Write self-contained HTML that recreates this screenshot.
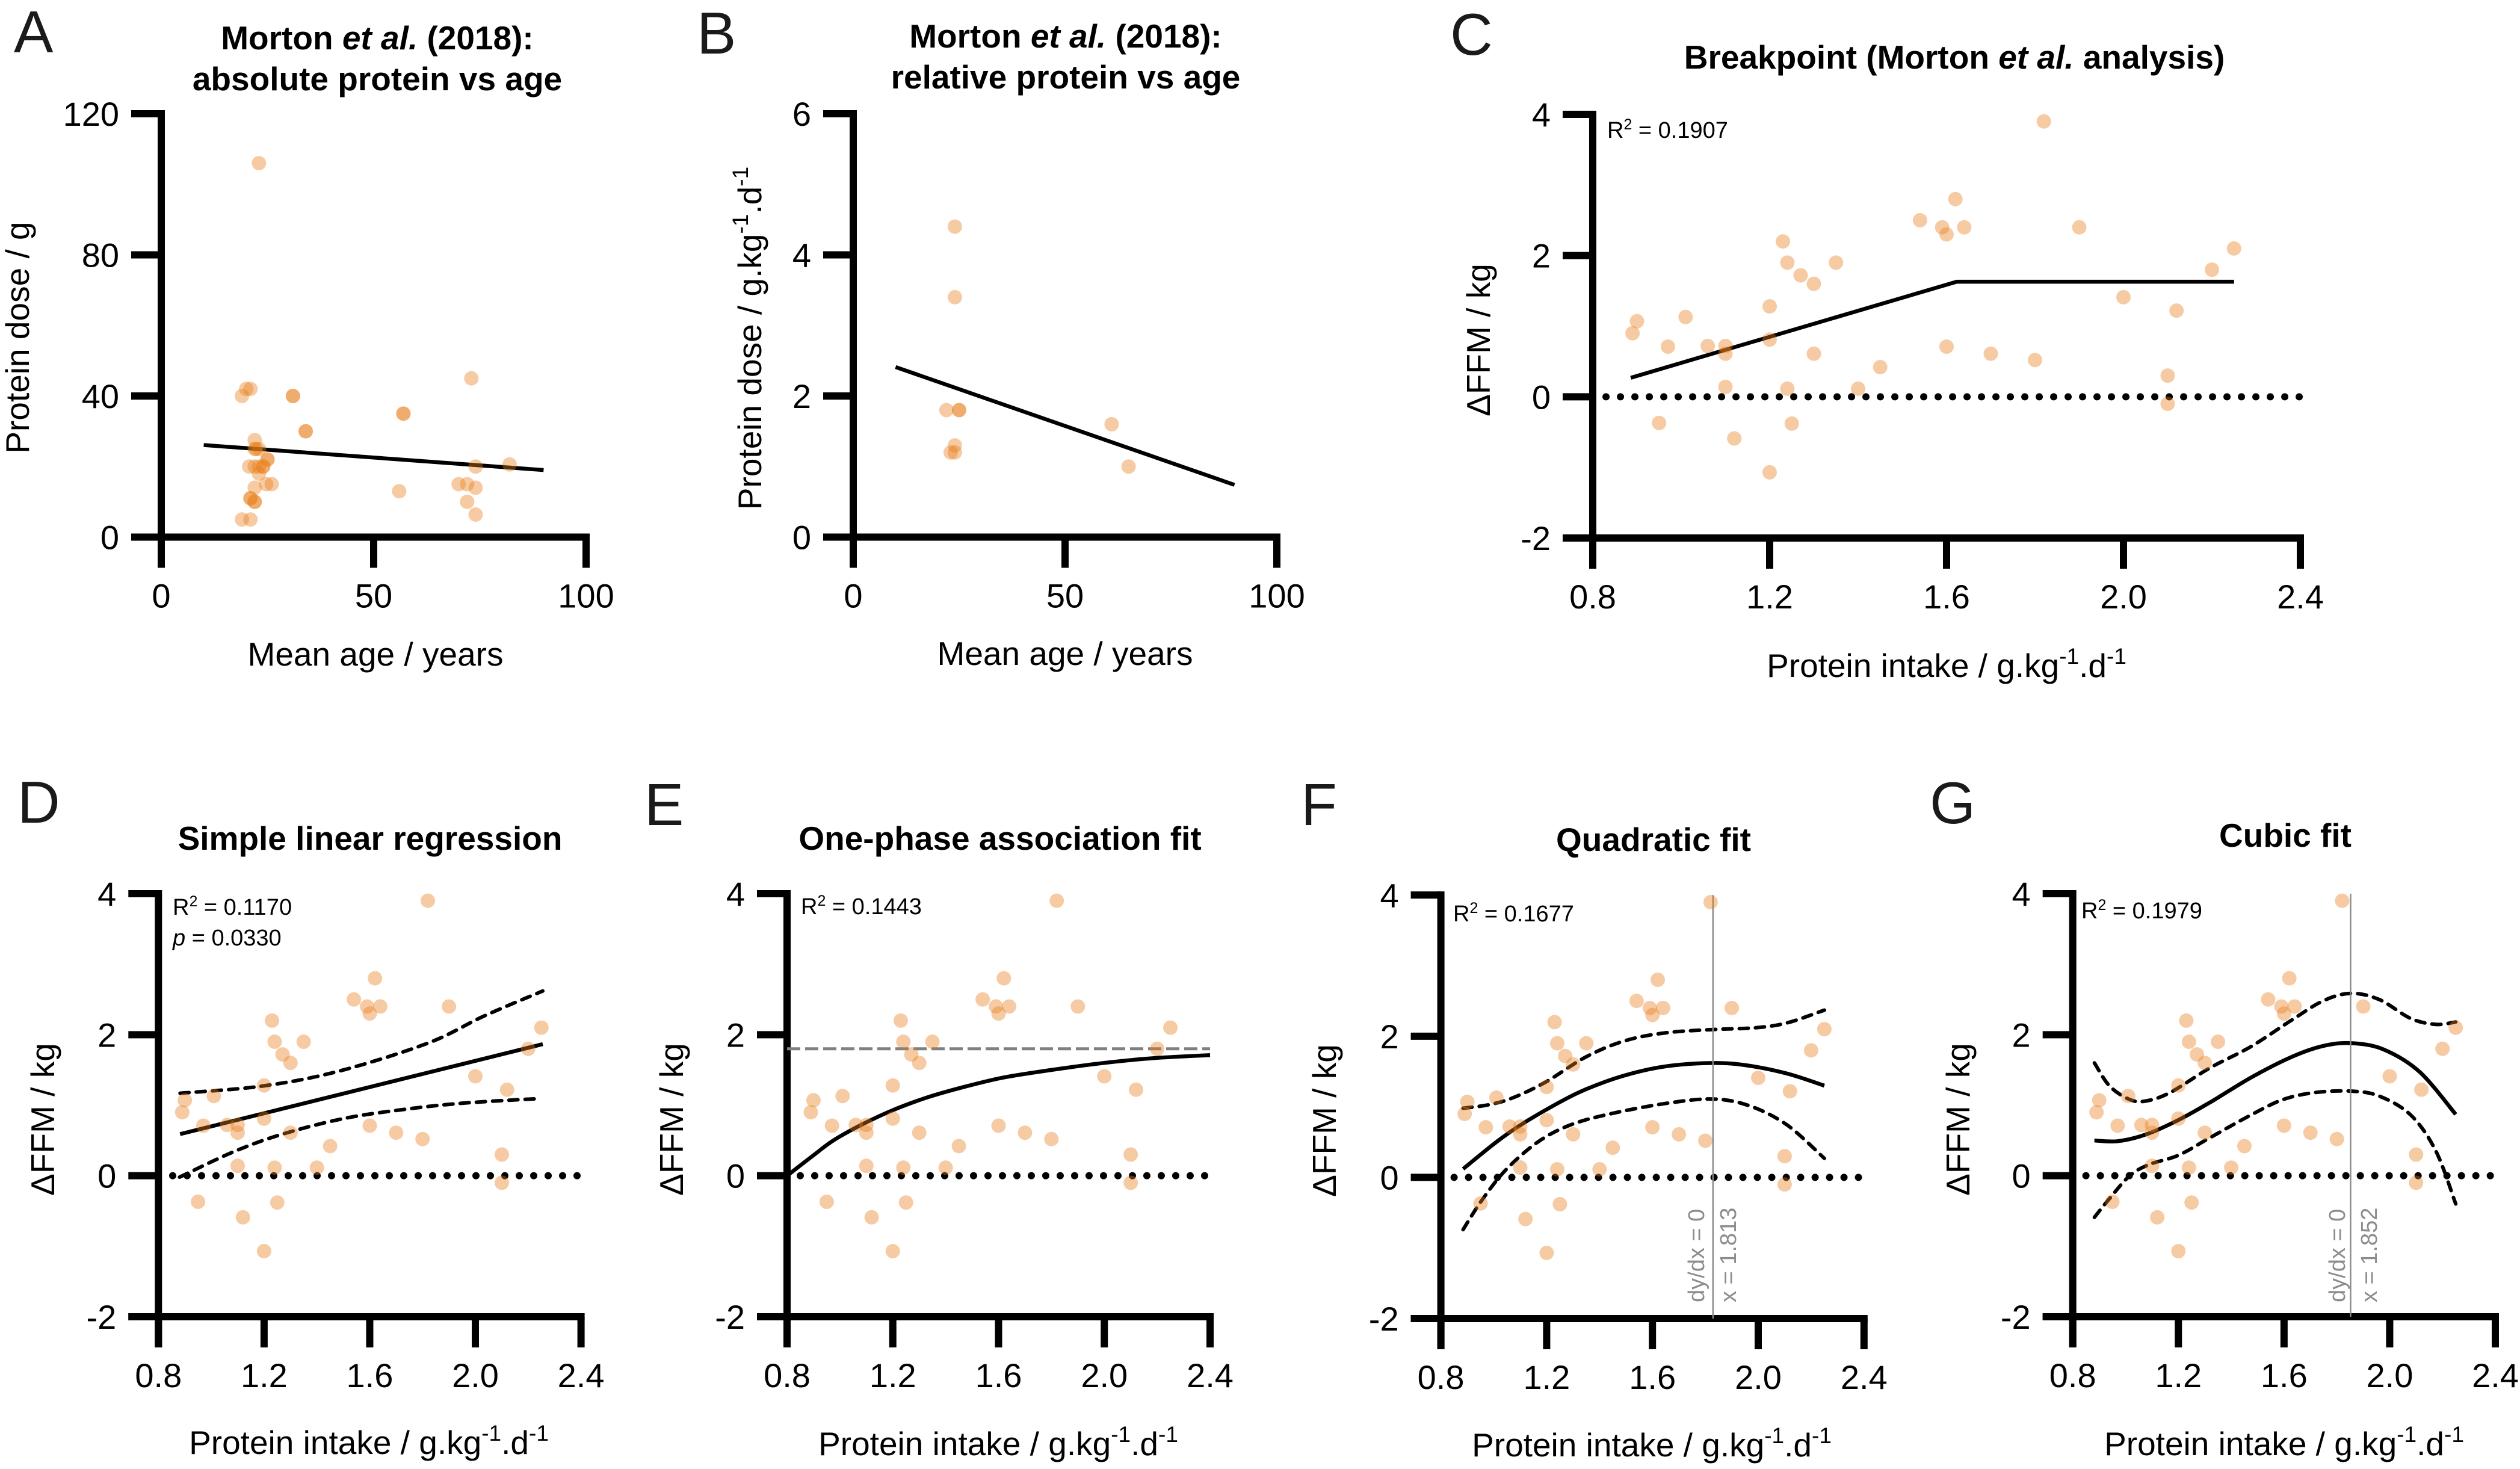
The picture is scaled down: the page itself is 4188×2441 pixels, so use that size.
<!DOCTYPE html>
<html lang="en">
<head>
<meta charset="utf-8">
<title>Protein intake and fat-free mass analyses</title>
<style>
  html, body { margin: 0; padding: 0; background: #fff; }
  svg { display: block; }
  text { font-family: "Liberation Sans", Arial, sans-serif; fill: #000; }
  .letter { font-size: 98px; fill: #1a1a1a; }
  .title { font-size: 55px; font-weight: bold; text-anchor: middle; }
  .title tspan.it { font-style: italic; }
  .xlab { font-size: 55px; text-anchor: middle; }
  .ylab { font-size: 55px; text-anchor: middle; }
  .stat { font-size: 38px; }
  .note { font-size: 38px; fill: #8c8c8c; }
  .tick { font-size: 56px; }
</style>
</head>
<body>
<svg id="figure" xmlns="http://www.w3.org/2000/svg" width="4188" height="2441" viewBox="0 0 4188 2441">
  <rect x="0" y="0" width="4188" height="2441" fill="#fff"/>

  <g>
    <g id="plot-a"></g>
    <text class="letter" x="23" y="87">A</text>
    <text class="title" x="627" y="82">Morton <tspan class="it">et al.</tspan> (2018):</text>
    <text class="title" x="627" y="150">absolute protein vs age</text>
    <text class="xlab" x="624" y="1106">Mean age / years</text>
    <text class="ylab" transform="translate(48 561) rotate(-90)">Protein dose / g</text>
  </g>

  <g>
    <g id="plot-b"></g>
    <text class="letter" x="1158" y="89">B</text>
    <text class="title" x="1771" y="79">Morton <tspan class="it">et al.</tspan> (2018):</text>
    <text class="title" x="1771" y="147">relative protein vs age</text>
    <text class="xlab" x="1770" y="1105">Mean age / years</text>
    <text class="ylab" transform="translate(1265 562) rotate(-90)">Protein dose / g.kg<tspan font-size="37" dy="-22">-1</tspan><tspan dy="22">.d</tspan><tspan font-size="37" dy="-22">-1</tspan></text>
  </g>

  <g>
    <g id="plot-c"></g>
    <text class="letter" x="2410" y="91">C</text>
    <text class="title" x="3248" y="114">Breakpoint (Morton <tspan class="it">et al.</tspan> analysis)</text>
    <text class="stat" x="2671" y="229">R<tspan font-size="25" dy="-14">2</tspan><tspan dy="14"> = 0.1907</tspan></text>
    <text class="xlab" x="3235" y="1125">Protein intake / g.kg<tspan font-size="37" dy="-22">-1</tspan><tspan dy="22">.d</tspan><tspan font-size="37" dy="-22">-1</tspan></text>
    <text class="ylab" transform="translate(2476 565) rotate(-90)">ΔFFM / kg</text>
  </g>

  <g>
    <g id="plot-d"></g>
    <text class="letter" x="29" y="1367">D</text>
    <text class="title" x="615" y="1412">Simple linear regression</text>
    <text class="stat" x="287" y="1520">R<tspan font-size="25" dy="-14">2</tspan><tspan dy="14"> = 0.1170</tspan></text>
    <text class="stat" x="287" y="1571"><tspan font-style="italic">p</tspan> = 0.0330</text>
    <text class="xlab" x="613" y="2416">Protein intake / g.kg<tspan font-size="37" dy="-22">-1</tspan><tspan dy="22">.d</tspan><tspan font-size="37" dy="-22">-1</tspan></text>
    <text class="ylab" transform="translate(90 1860) rotate(-90)">ΔFFM / kg</text>
  </g>

  <g>
    <g id="plot-e"></g>
    <text class="letter" x="1071" y="1371">E</text>
    <text class="title" x="1662" y="1412">One-phase association fit</text>
    <text class="stat" x="1331" y="1519">R<tspan font-size="25" dy="-14">2</tspan><tspan dy="14"> = 0.1443</tspan></text>
    <text class="xlab" x="1659" y="2418">Protein intake / g.kg<tspan font-size="37" dy="-22">-1</tspan><tspan dy="22">.d</tspan><tspan font-size="37" dy="-22">-1</tspan></text>
    <text class="ylab" transform="translate(1135 1860) rotate(-90)">ΔFFM / kg</text>
  </g>

  <g>
    <g id="plot-f"></g>
    <text class="letter" x="2162" y="1371">F</text>
    <text class="title" x="2748" y="1414">Quadratic fit</text>
    <text class="stat" x="2415" y="1531">R<tspan font-size="25" dy="-14">2</tspan><tspan dy="14"> = 0.1677</tspan></text>
    <text class="note" transform="translate(2832 2164) rotate(-90)">dy/dx = 0</text>
    <text class="note" transform="translate(2885 2164) rotate(-90)">x = 1.813</text>
    <text class="xlab" x="2745" y="2420">Protein intake / g.kg<tspan font-size="37" dy="-22">-1</tspan><tspan dy="22">.d</tspan><tspan font-size="37" dy="-22">-1</tspan></text>
    <text class="ylab" transform="translate(2220 1862) rotate(-90)">ΔFFM / kg</text>
  </g>

  <g>
    <g id="plot-g"></g>
    <text class="letter" x="3207" y="1368">G</text>
    <text class="title" x="3798" y="1407">Cubic fit</text>
    <text class="stat" x="3459" y="1526">R<tspan font-size="25" dy="-14">2</tspan><tspan dy="14"> = 0.1979</tspan></text>
    <text class="note" transform="translate(3897 2164) rotate(-90)">dy/dx = 0</text>
    <text class="note" transform="translate(3950 2164) rotate(-90)">x = 1.852</text>
    <text class="xlab" x="3796" y="2418">Protein intake / g.kg<tspan font-size="37" dy="-22">-1</tspan><tspan dy="22">.d</tspan><tspan font-size="37" dy="-22">-1</tspan></text>
    <text class="ylab" transform="translate(3273 1860) rotate(-90)">ΔFFM / kg</text>
  </g>
</svg>

<script>
// ---- Tick values and labels ----
const ageTicks = [0, 50, 100];
const ageTickLabels = ['0', '50', '100'];
const absDoseTicks = [0, 40, 80, 120];
const absDoseTickLabels = ['0', '40', '80', '120'];
const relDoseTicks = [0, 2, 4, 6];
const relDoseTickLabels = ['0', '2', '4', '6'];
const intakeTicks = [0.8, 1.2, 1.6, 2.0, 2.4];
const intakeTickLabels = ['0.8', '1.2', '1.6', '2.0', '2.4'];
const ffmTicks = [-2, 0, 2, 4];
const ffmTickLabels = ['-2', '0', '2', '4'];

// ---- Panel A: absolute protein dose vs age ----
const absAge = [23, 19, 20, 21, 31, 31, 34, 34, 57, 57, 73, 22, 22, 22.3, 23, 25, 25, 20.7, 22, 23, 24, 24, 23, 24.7, 26, 22, 21, 21, 22, 22, 19, 21, 56, 70, 72, 74, 72, 74, 74, 82];
const absDose = [106, 40, 42, 42, 40, 40, 30, 30, 35, 35, 45, 27.5, 25, 25, 25, 22, 22, 20, 20, 20, 20, 20, 18, 15, 15, 14, 11, 11, 10, 10, 5, 5, 13, 15, 15, 14, 10, 6.4, 20, 20.6];
const absFitAge = [10, 90];
const absFitDose = [26.1, 19];

// ---- Panel B: relative protein dose vs age ----
const relAge = [24, 24, 22, 25, 25, 61, 24, 23, 24, 65];
const relDose = [4.4, 3.4, 1.8, 1.8, 1.8, 1.6, 1.3, 1.2, 1.2, 1.0];
const relFitAge = [10, 90];
const relFitDose = [2.41, 0.74];

// ---- Panels C-G: change in fat-free mass vs protein intake ----
const intake = [1.82, 1.62, 1.54, 1.59, 1.64, 1.6, 1.9, 1.23, 2.25, 1.24, 1.35, 1.27, 1.3, 2.2, 2.0, 2.12, 1.2, 0.9, 1.01, 0.89, 0.97, 1.06, 1.1, 1.1, 1.2, 1.3, 1.6, 1.7, 1.8, 1.45, 2.1, 1.1, 1.24, 1.4, 2.1, 0.95, 1.25, 1.12, 1.2];
const deltaFfm = [3.9, 2.8, 2.5, 2.4, 2.4, 2.3, 2.4, 2.2, 2.1, 1.9, 1.9, 1.72, 1.6, 1.8, 1.41, 1.22, 1.28, 1.07, 1.13, 0.9, 0.71, 0.72, 0.72, 0.61, 0.81, 0.61, 0.71, 0.61, 0.52, 0.42, 0.3, 0.14, 0.115, 0.115, -0.1, -0.37, -0.38, -0.59, -1.07];

// Panel C: breakpoint
const breakX = [0.886, 1.623, 2.25];
const breakY = [0.27, 1.63, 1.63];

// Panel D: simple linear regression
const linearX = [0.882, 2.255];
const linearY = [0.59, 1.866];
const linearUpperX = [0.882, 1.19, 1.48, 1.82, 2.03, 2.255];
const linearUpperY = [1.17, 1.27, 1.48, 1.88, 2.26, 2.62];
const linearLowerX = [0.88, 1.085, 1.27, 1.5, 1.73, 1.955, 2.245];
const linearLowerY = [-0.02, 0.34, 0.59, 0.81, 0.94, 1.03, 1.095];

// Panel E: one-phase association
const assocX = [0.8, 0.9, 0.975, 1.08, 1.2, 1.33, 1.46, 1.615, 1.8, 2.0, 2.195, 2.4];
const assocY = [0, 0.29, 0.5, 0.72, 0.93, 1.11, 1.25, 1.39, 1.5, 1.6, 1.67, 1.71];
const assocPlateauX = [0.8, 2.4];
const assocPlateauY = [1.8, 1.8];

// Panel F: quadratic
const quadX = [0.884, 1.013, 1.105, 1.227, 1.35, 1.5, 1.654, 1.83, 1.96, 2.11, 2.25];
const quadY = [0.12, 0.51, 0.75, 1.02, 1.25, 1.45, 1.575, 1.62, 1.585, 1.47, 1.3];
const quadUpperX = [0.884, 0.983, 1.074, 1.196, 1.35, 1.5, 1.654, 1.83, 1.99, 2.11, 2.25];
const quadUpperY = [0.98, 1.03, 1.13, 1.35, 1.71, 1.94, 2.05, 2.095, 2.12, 2.19, 2.37];
const quadLowerX = [0.884, 0.952, 1.044, 1.166, 1.288, 1.44, 1.654, 1.83, 1.97, 2.11, 2.25];
const quadLowerY = [-0.74, -0.34, 0.1, 0.5, 0.74, 0.9, 1.05, 1.11, 1.01, 0.74, 0.27];
const quadPeak = [1.829];

// Panel G: cubic
const cubicX = [0.882, 0.97, 1.077, 1.2, 1.32, 1.474, 1.626, 1.748, 1.855, 1.977, 2.114, 2.25];
const cubicY = [0.5, 0.49, 0.585, 0.79, 1.04, 1.39, 1.68, 1.84, 1.88, 1.79, 1.47, 0.87];
const cubicUpperX = [0.882, 0.94, 1.016, 1.077, 1.169, 1.32, 1.474, 1.626, 1.748, 1.852, 1.96, 2.08, 2.175, 2.25];
const cubicUpperY = [1.6, 1.27, 1.08, 1.06, 1.18, 1.53, 1.83, 2.2, 2.48, 2.586, 2.5, 2.23, 2.146, 2.18];
const cubicLowerX = [0.882, 0.94, 1.016, 1.09, 1.2, 1.32, 1.474, 1.596, 1.718, 1.852, 1.96, 2.08, 2.175, 2.25];
const cubicLowerY = [-0.59, -0.32, 0, 0.16, 0.29, 0.54, 0.86, 1.08, 1.18, 1.2, 1.13, 0.86, 0.35, -0.4];
const cubicPeak = [1.852];

// ---- Drawing ----
const SVG_NS = 'http://www.w3.org/2000/svg';

function make(tag, attrs, parent) {
  const node = document.createElementNS(SVG_NS, tag);
  Object.keys(attrs).forEach(function (k) { node.setAttribute(k, attrs[k]); });
  parent.appendChild(node);
  return node;
}

function panel(id, left, right, bottom, top, xMin, xMax, yMin, yMax) {
  return {
    g: document.getElementById(id),
    left: left, right: right, bottom: bottom, top: top,
    x: function (v) { return left + (v - xMin) / (xMax - xMin) * (right - left); },
    y: function (v) { return bottom - (v - yMin) / (yMax - yMin) * (bottom - top); }
  };
}

function drawAxes(p, xTicks, xLabels, yTicks, yLabels) {
  const yAxis = make('line', { x1: p.left, x2: p.left, y1: p.top - 6, y2: p.bottom + 51, stroke: '#000', 'stroke-width': 12 }, p.g);
  
  

  const xAxis = make('line', { x1: p.left - 50, x2: p.right + 6, y1: p.bottom, y2: p.bottom, stroke: '#000', 'stroke-width': 12 }, p.g);
  
  

  xTicks.forEach(function (v, i) {
    const mark = make('line', { x1: p.x(v), x2: p.x(v), y1: p.bottom, y2: p.bottom + 51, stroke: '#000', 'stroke-width': 12 }, p.g);
    
    

    const label = make('text', { class: 'tick', x: p.x(v), y: p.bottom + 117, 'text-anchor': 'middle' }, p.g);
    
    
    label.textContent = xLabels[i];
  });

  yTicks.forEach(function (v, i) {
    const mark = make('line', { x1: p.left - 50, x2: p.left, y1: p.y(v), y2: p.y(v), stroke: '#000', 'stroke-width': 12 }, p.g);
    
    

    const label = make('text', { class: 'tick', x: p.left - 70, y: p.y(v) + 20, 'text-anchor': 'end' }, p.g);
    
    
    label.textContent = yLabels[i];
  });
}

function smoothPath(xs, ys, p) {
  const pts = xs.map(function (v, i) { return [p.x(v), p.y(ys[i])]; });
  let d = 'M' + pts[0][0].toFixed(1) + ' ' + pts[0][1].toFixed(1);
  for (let i = 0; i < pts.length - 1; i++) {
    const a = pts[Math.max(i - 1, 0)], b = pts[i], c = pts[i + 1], e = pts[Math.min(i + 2, pts.length - 1)];
    d += 'C' + (b[0] + (c[0] - a[0]) / 6).toFixed(1) + ' ' + (b[1] + (c[1] - a[1]) / 6).toFixed(1) + ' ' +
         (c[0] - (e[0] - b[0]) / 6).toFixed(1) + ' ' + (c[1] - (e[1] - b[1]) / 6).toFixed(1) + ' ' +
         c[0].toFixed(1) + ' ' + c[1].toFixed(1);
  }
  return d;
}

function straightPath(xs, ys, p) {
  return xs.map(function (v, i) { return (i ? 'L' : 'M') + p.x(v).toFixed(1) + ' ' + p.y(ys[i]).toFixed(1); }).join('');
}

function drawFit(p, xs, ys, smooth) {
  const path = make('path', { d: smooth ? smoothPath(xs, ys, p) : straightPath(xs, ys, p), fill: 'none', stroke: '#000', 'stroke-width': 6.5, 'stroke-linejoin': 'round' }, p.g);
  
  
}

function drawBand(p, xs, ys) {
  const path = make('path', { d: smoothPath(xs, ys, p), fill: 'none', stroke: '#000', 'stroke-width': 6, 'stroke-linecap': 'round', 'stroke-dasharray': '15 12' }, p.g);
  
  
}

function drawZeroLine(p, startX) {
  const zero = make('line', { x1: p.x(startX), x2: p.x(2.4), y1: p.y(0), y2: p.y(0), stroke: '#000', 'stroke-width': 12, 'stroke-linecap': 'round', 'stroke-dasharray': '0 24' }, p.g);
  
  
}

function drawPeak(p, xs) {
  const peak = make('line', { x1: p.x(xs[0]), x2: p.x(xs[0]), y1: p.top, y2: p.bottom, stroke: '#8c8c8c', 'stroke-width': 2.5 }, p.g);
  
  
}

function drawDots(p, xs, ys) {
  xs.forEach(function (v, i) {
    const dot = make('circle', { cx: p.x(v), cy: p.y(ys[i]), r: 12, fill: 'rgb(232,125,25)', 'fill-opacity': 0.4 }, p.g);
    
    
  });
}

// Panel A
const pA = panel('plot-a', 268, 974, 892.5, 189, 0, 100, 0, 120);
drawAxes(pA, ageTicks, ageTickLabels, absDoseTicks, absDoseTickLabels);
drawFit(pA, absFitAge, absFitDose, false);
drawDots(pA, absAge, absDose);

// Panel B
const pB = panel('plot-b', 1418, 2122, 892.5, 189, 0, 100, 0, 6);
drawAxes(pB, ageTicks, ageTickLabels, relDoseTicks, relDoseTickLabels);
drawFit(pB, relFitAge, relFitDose, false);
drawDots(pB, relAge, relDose);

// Panel C
const pC = panel('plot-c', 2647, 3823, 894, 190, 0.8, 2.4, -2, 4);
drawAxes(pC, intakeTicks, intakeTickLabels, ffmTicks, ffmTickLabels);
drawZeroLine(pC, 0.83);
drawFit(pC, breakX, breakY, false);
drawDots(pC, intake, deltaFfm);

// Panel D
const pD = panel('plot-d', 263.3, 965.6, 2188, 1485, 0.8, 2.4, -2, 4);
drawAxes(pD, intakeTicks, intakeTickLabels, ffmTicks, ffmTickLabels);
drawZeroLine(pD, 0.854);
drawFit(pD, linearX, linearY, false);
drawBand(pD, linearUpperX, linearUpperY);
drawBand(pD, linearLowerX, linearLowerY);
drawDots(pD, intake, deltaFfm);

// Panel E
const pE = panel('plot-e', 1308, 2011, 2188, 1485, 0.8, 2.4, -2, 4);
drawAxes(pE, intakeTicks, intakeTickLabels, ffmTicks, ffmTickLabels);
drawZeroLine(pE, 0.85);
const plateau = make('path', { d: straightPath(assocPlateauX, assocPlateauY, pE), fill: 'none', stroke: '#808080', 'stroke-width': 5, 'stroke-dasharray': '22 8' }, pE.g);


drawFit(pE, assocX, assocY, true);
drawDots(pE, intake, deltaFfm);

// Panel F
const pF = panel('plot-f', 2394.6, 3097.8, 2191, 1487.3, 0.8, 2.4, -2, 4);
drawAxes(pF, intakeTicks, intakeTickLabels, ffmTicks, ffmTickLabels);
drawZeroLine(pF, 0.85);
drawFit(pF, quadX, quadY, true);
drawBand(pF, quadUpperX, quadUpperY);
drawBand(pF, quadLowerX, quadLowerY);
drawPeak(pF, quadPeak);
drawDots(pF, intake, deltaFfm);

// Panel G
const pG = panel('plot-g', 3444.7, 4147, 2188, 1485, 0.8, 2.4, -2, 4);
drawAxes(pG, intakeTicks, intakeTickLabels, ffmTicks, ffmTickLabels);
drawZeroLine(pG, 0.85);
drawFit(pG, cubicX, cubicY, true);
drawBand(pG, cubicUpperX, cubicUpperY);
drawBand(pG, cubicLowerX, cubicLowerY);
drawPeak(pG, cubicPeak);
drawDots(pG, intake, deltaFfm);
</script>
</body>
</html>
